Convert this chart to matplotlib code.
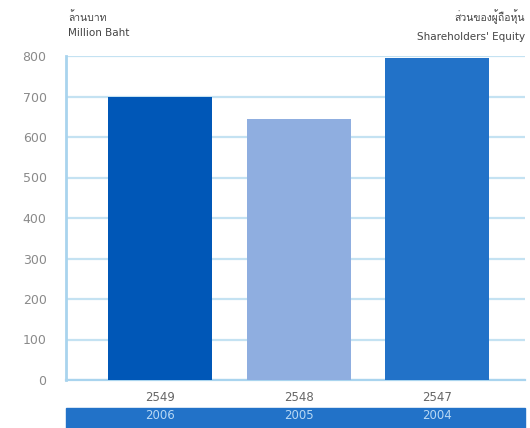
import matplotlib.pyplot as plt
from matplotlib import font_manager
from matplotlib.ft2font import FT2Font
from matplotlib.patches import Rectangle

# find an installed family with Thai glyphs
thai_family = None
for f in font_manager.fontManager.ttflist:
    try:
        if 0x0E01 in FT2Font(f.fname).get_charmap():
            thai_family = f.name
            break
    except Exception:
        pass
families = ['DejaVu Sans'] + ([thai_family] if thai_family else [])
thai_families = ([thai_family] if thai_family else []) + ['DejaVu Sans']
plt.rcParams['font.family'] = families

years_th = ['2549', '2548', '2547']
years_en = ['2006', '2005', '2004']
equity = [700, 645, 795]
bar_colors = ['#0057B7', '#8FAEE0', '#2272C8']
yticks = [0, 100, 200, 300, 400, 500, 600, 700, 800]

fig = plt.figure(figsize=(5.3, 4.28), dpi=100)
ax = fig.add_axes([66 / 530, 1 - 380 / 428, (525 - 66) / 530, (380 - 56) / 428])
ax.set_zorder(2)

x = range(len(equity))
ax.bar(x, equity, width=0.75, color=bar_colors, zorder=3)
ax.set_xlim(-0.68, 2.635)
ax.set_ylim(0, 800)

ax.set_yticks(yticks)
ax.set_yticklabels([str(v) for v in yticks], color='#8a8a8a', fontsize=9)
ax.tick_params(axis='y', length=0, pad=14)
ax.set_xticks([])
ax.yaxis.grid(True, color='#C4E2F2', linewidth=1.6, zorder=0)
ax.set_axisbelow(True)

for s in ['top', 'right']:
    ax.spines[s].set_visible(False)
ax.spines['left'].set_color('#A9D4EE')
ax.spines['left'].set_linewidth(2)
ax.spines['bottom'].set_color('#A9D4EE')
ax.spines['bottom'].set_linewidth(1.6)

# year labels
fig.patches.append(Rectangle((66 / 530, 0), (525 - 66) / 530, 20 / 428,
                             transform=fig.transFigure, color='#2272C8', zorder=1))
for i in x:
    ax.text(i, -0.055, years_th[i], transform=ax.get_xaxis_transform(),
            ha='center', va='center', fontsize=8.5, color='#666666')
    ax.text(i, -0.11, years_en[i], transform=ax.get_xaxis_transform(),
            ha='center', va='center', fontsize=8.5, color='#B8D8F4', clip_on=False)

fig.text(68 / 530, 1 - 17 / 428, 'ล้านบาท', fontsize=7.5, color='#444444', va='center',
         family=thai_families)
fig.text(68 / 530, 1 - 33 / 428, 'Million Baht', fontsize=7.5, color='#444444', va='center')
fig.text(525 / 530, 1 - 17 / 428, 'ส่วนของผู้ถือหุ้น', fontsize=7.5, color='#444444',
         va='center', ha='right', family=thai_families)
fig.text(525 / 530, 1 - 37 / 428, "Shareholders' Equity", fontsize=7.5, color='#444444',
         va='center', ha='right')

fig.savefig('out.png', dpi=100)
